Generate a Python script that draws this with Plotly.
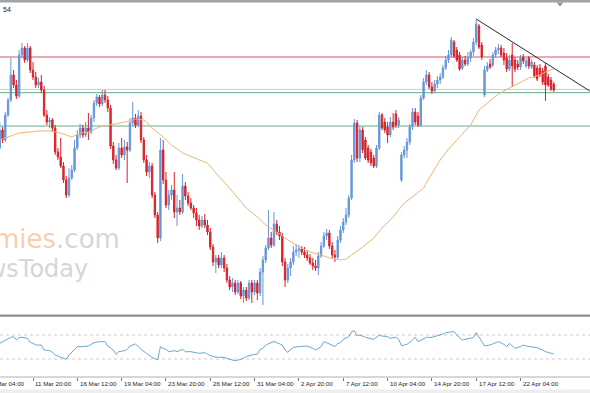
import plotly.graph_objects as go

# ---------------- data (H4 candles, bar index 0..200) ----------------
opens = [1652,1670,1660,1685,1700,1725,1715,1704,1745,1752,
         1740,1752,1730,1723,1715,1718,1710,1685,1678,1680,
         1672,1648,1643,1634,1620,1605,1622,1630,1652,1665,
         1672,1665,1672,1668,1682,1697,1703,1696,1705,1700,
         1692,1654,1640,1632,1652,1645,1653,1650,1677,1682,
         1675,1684,1660,1640,1628,1634,1605,1585,1562,1650,
         1620,1595,1605,1610,1588,1592,1588,1614,1604,1597,
         1592,1587,1580,1574,1580,1575,1568,1553,1538,1542,
         1535,1542,1532,1520,1513,1517,1508,1517,1504,1510,
         1502,1517,1508,1517,1507,1528,1540,1552,1562,1555,
         1576,1568,1564,1538,1520,1532,1538,1548,1550,1551,
         1548,1545,1542,1537,1534,1532,1544,1554,1564,1567,
         1554,1545,1543,1560,1570,1578,1585,1602,1640,1677,
         1642,1670,1660,1652,1648,1642,1634,1652,1685,1678,
         1673,1665,1678,1686,1675,1620,1645,1650,1658,1673,
         1688,1684,1675,1702,1718,1725,1713,1709,1716,1720,
         1723,1732,1740,1745,1758,1750,1745,1732,1740,1736,
         1742,1748,1758,1774,1755,1705,1730,1736,1735,1745,
         1750,1752,1747,1742,1731,1745,1740,1736,1733,1743,
         1734,1742,1733,1735,1732,1732,1729,1734,1723,1720,
         1716]
highs = [1678,1673,1688,1702,1742,1730,1720,1750,1757,1754,
         1757,1754,1738,1728,1722,1725,1714,1690,1683,1682,
         1675,1652,1662,1638,1624,1632,1635,1660,1670,1676,
         1675,1678,1687,1685,1700,1706,1705,1710,1710,1704,
         1695,1658,1645,1657,1662,1660,1658,1682,1698,1686,
         1690,1688,1663,1645,1638,1637,1608,1588,1662,1660,
         1628,1610,1615,1628,1605,1600,1626,1618,1608,1602,
         1595,1592,1585,1584,1586,1580,1572,1556,1545,1545,
         1548,1545,1536,1524,1522,1520,1520,1519,1513,1513,
         1520,1520,1520,1520,1532,1544,1555,1590,1568,1588,
         1580,1574,1567,1542,1536,1542,1554,1556,1555,1554,
         1553,1550,1546,1542,1540,1548,1558,1568,1571,1570,
         1558,1550,1564,1574,1582,1592,1605,1645,1681,1680,
         1674,1673,1663,1655,1651,1645,1655,1688,1687,1682,
         1678,1683,1687,1690,1683,1648,1654,1662,1676,1692,
         1692,1688,1705,1722,1730,1728,1718,1720,1724,1727,
         1735,1744,1750,1763,1760,1753,1748,1743,1744,1748,
         1750,1762,1781,1776,1758,1734,1738,1741,1748,1753,
         1756,1755,1752,1747,1745,1757,1743,1740,1745,1746,
         1742,1744,1741,1738,1735,1736,1732,1737,1726,1723,
         1718]
lows = [1650,1657,1658,1683,1698,1712,1701,1702,1742,1737,
        1738,1727,1720,1712,1712,1707,1683,1675,1672,1668,
        1645,1640,1632,1617,1602,1603,1620,1628,1650,1662,
        1662,1663,1660,1666,1678,1694,1693,1694,1697,1688,
        1651,1636,1630,1630,1642,1640,1617,1648,1674,1672,
        1673,1657,1637,1624,1622,1602,1582,1557,1559,1616,
        1592,1590,1600,1582,1574,1585,1586,1600,1594,1590,
        1582,1574,1570,1572,1572,1565,1550,1534,1527,1532,
        1532,1528,1517,1510,1508,1505,1506,1501,1497,1499,
        1500,1497,1505,1500,1504,1495,1537,1550,1552,1553,
        1565,1560,1534,1513,1517,1524,1535,1544,1542,1545,
        1542,1539,1535,1530,1529,1525,1542,1552,1560,1551,
        1542,1538,1541,1557,1567,1575,1582,1600,1637,1638,
        1638,1647,1640,1637,1634,1632,1632,1650,1670,1667,
        1657,1663,1670,1672,1672,1618,1642,1642,1655,1670,
        1675,1673,1673,1700,1715,1711,1706,1707,1712,1716,
        1721,1730,1737,1743,1742,1738,1729,1730,1734,1734,
        1738,1744,1755,1751,1740,1703,1728,1731,1733,1742,
        1746,1743,1735,1728,1729,1713,1728,1730,1730,1736,
        1732,1731,1731,1722,1719,1723,1715,1699,1713,1709,
        1708]
closes = [1670,1660,1685,1700,1725,1715,1704,1745,1752,1740,
          1752,1730,1723,1715,1718,1710,1685,1678,1680,1672,
          1648,1643,1634,1620,1605,1622,1630,1652,1665,1672,
          1665,1672,1668,1682,1697,1703,1696,1705,1700,1692,
          1654,1640,1632,1652,1645,1653,1650,1677,1682,1675,
          1684,1660,1640,1628,1634,1605,1585,1562,1650,1620,
          1595,1605,1610,1588,1592,1588,1614,1604,1597,1592,
          1587,1580,1574,1580,1575,1568,1553,1538,1542,1535,
          1542,1532,1520,1513,1517,1508,1517,1504,1510,1502,
          1517,1508,1517,1507,1528,1540,1552,1562,1555,1576,
          1568,1564,1538,1520,1532,1538,1548,1550,1551,1548,
          1545,1542,1537,1534,1532,1544,1554,1564,1567,1554,
          1545,1543,1560,1570,1578,1585,1602,1640,1677,1642,
          1670,1650,1642,1640,1637,1634,1652,1685,1672,1670,
          1665,1678,1673,1675,1680,1645,1650,1658,1673,1688,
          1678,1675,1702,1718,1725,1713,1709,1716,1720,1723,
          1732,1740,1745,1760,1744,1740,1731,1740,1736,1742,
          1748,1758,1776,1753,1743,1730,1734,1733,1745,1750,
          1752,1745,1740,1731,1740,1734,1731,1733,1742,1739,
          1739,1734,1738,1724,1721,1725,1718,1715,1715,1711,
          1710]

# moving average
ma_idx = [0,4,7,11,14,18,22,25,26,29,32,36,40,43,47,49,52,53,55,59,
          62,66,70,73,75,78,82,86,89,93,96,100,104,108,112,116,119,123,125,127,
          131,135,138,142,146,149,153,155,159,162,166,170,173,176,180,184,188,191,195,197,200]
ma_val = [1660,1664,1667,1668,1669,1669,1667,1664,1663,1667,1668,1673,1675,1677,1679,1681,1680,1678,1672,1663,
          1655,1647,1642,1639,1637,1627,1615,1602,1592,1583,1575,1568,1560,1553,1548,1545,1542,1540,1541,1545,
          1553,1562,1572,1583,1597,1603,1612,1622,1640,1651,1663,1675,1690,1697,1706,1712,1718,1722,1725,1728,1731]

# RSI (lower panel)
rsi_idx = [0,2,4,5,6,7,8,10,11,12,13,15,16,18,19,20,22,24,25,27,28,30,32,34,36,38,39,41,42,43,
           45,46,47,49,50,51,53,55,57,58,59,60,61,63,64,66,67,69,72,74,75,77,79,81,83,85,87,89,91,93,
           94,95,96,97,99,100,102,103,104,105,106,108,110,111,113,114,116,117,118,120,121,122,123,124,126,127,128,129,130,132,
           134,135,137,138,140,141,143,144,145,147,149,150,151,153,154,156,158,160,161,164,165,167,168,171,172,173,175,177,179,180,
           182,183,184,186,188,189,190,192,194,196,197,200]
rsi_val = [56.1,61.7,66.1,67.2,61.7,65.6,66.1,64.4,57.8,56.1,53.3,53.3,45.0,43.9,41.1,36.7,32.8,29.4,36.7,46.1,50.6,50.6,51.7,57.2,58.9,58.9,51.7,45.0,37.8,42.2,
           43.9,46.1,51.7,55.0,50.6,46.1,39.4,32.8,28.3,50.6,47.8,46.1,42.2,43.9,42.2,46.1,42.2,42.2,39.4,40.6,37.8,33.9,32.8,32.8,29.4,27.2,29.4,33.9,36.7,38.3,
           46.1,47.8,53.3,55.0,59.4,57.2,53.3,45.0,41.1,46.1,49.4,50.6,51.7,51.7,47.8,45.0,50.6,58.9,57.2,53.3,50.6,56.1,57.2,62.8,67.2,75.6,77.2,68.3,70.0,66.1,
           64.4,62.8,70.0,68.3,67.2,64.4,66.1,62.8,52.2,54.4,61.7,66.1,58.9,62.8,66.1,66.1,68.3,71.7,73.9,75.6,70.0,61.7,62.8,65.6,73.9,67.2,51.7,53.3,57.2,58.9,
           54.4,50.6,56.1,47.8,50.6,53.3,51.7,50.6,48.9,45.0,42.2,38.3]
assert len(rsi_idx) == len(rsi_val) and len(ma_idx) == len(ma_val)

tick_idx = [-4, 12, 28, 44, 60, 76, 92, 108, 124, 140, 156, 172, 188]
tick_text = ["9 Mar 04:00", "11 Mar 20:00", "16 Mar 12:00", "19 Mar 04:00", "23 Mar 20:00",
             "26 Mar 12:00", "31 Mar 04:00", "2 Apr 20:00", "7 Apr 12:00", "10 Apr 04:00",
             "14 Apr 20:00", "17 Apr 12:00", "22 Apr 04:00"]

level_vals = [1743, 1710.6, 1707.3, 1674]
level_colors = ["#d6506a", "#cccccc", "#5fae88", "#5fae88"]
trend_idx = [172, 213]
trend_val = [1781, 1709]
rsi_levels = [70, 30]

# ---------------- layout helpers ----------------
W, H = 590, 393
X_LO, X_HI = 0.087, 213.08          # visible bar range
Y_LO, Y_HI = 1486, 1797             # visible price range


def py(pix):
    return (H - pix) / H


def px_frac(idx):
    return (idx - X_LO) / (X_HI - X_LO)


bars = list(range(len(closes)))
fig = go.Figure()

fig.add_trace(go.Candlestick(
    x=bars, open=opens, high=highs, low=lows, close=closes,
    increasing=dict(line=dict(color="#6497da", width=1), fillcolor="#6497da"),
    decreasing=dict(line=dict(color="#d8222a", width=1), fillcolor="#d8222a"),
    whiskerwidth=0, xaxis="x", yaxis="y", hoverinfo="skip", showlegend=False))

fig.add_trace(go.Scatter(x=ma_idx, y=ma_val, mode="lines", xaxis="x", yaxis="y",
                         line=dict(color="#e8b77a", width=1), hoverinfo="skip", showlegend=False))
fig.add_trace(go.Scatter(x=trend_idx, y=trend_val, mode="lines", xaxis="x", yaxis="y",
                         line=dict(color="#2a2a2a", width=1), hoverinfo="skip", showlegend=False))
fig.add_trace(go.Scatter(x=rsi_idx, y=rsi_val, mode="lines", xaxis="x2", yaxis="y2",
                         line=dict(color="#6aa8d0", width=1), hoverinfo="skip", showlegend=False))

shapes = []
for v, c in zip(level_vals, level_colors):
    shapes.append(dict(type="line", xref="paper", yref="y", x0=0, x1=1, y0=v, y1=v,
                       line=dict(color=c, width=1), layer="below"))
for v in rsi_levels:
    shapes.append(dict(type="line", xref="paper", yref="y2", x0=0, x1=1, y0=v, y1=v,
                       line=dict(color="#dcc4c4", width=1, dash="dot"), layer="below"))
# frame pieces
shapes.append(dict(type="rect", xref="paper", yref="paper", x0=0, x1=1, y0=py(2.5), y1=1,
                   fillcolor="#a3a3a3", line=dict(width=0)))
shapes.append(dict(type="rect", xref="paper", yref="paper", x0=0, x1=1, y0=py(316.8), y1=py(314.6),
                   fillcolor="#8e8e8e", line=dict(width=0)))
shapes.append(dict(type="line", xref="paper", yref="paper", x0=0, x1=1, y0=py(377), y1=py(377),
                   line=dict(color="#b0b0b0", width=1)))
shapes.append(dict(type="rect", xref="paper", yref="paper", x0=0, x1=1, y0=0, y1=py(389.5),
                   fillcolor="#eeeeee", line=dict(width=0)))
# chart-shift marker
shapes.append(dict(type="path", xref="paper", yref="paper",
                   path="M %f,%f L %f,%f L %f,%f Z" % (556.5 / W, py(2.5), 563.5 / W, py(2.5), 560 / W, py(6.5)),
                   fillcolor="#9a9a9a", line=dict(width=0)))

annotations = []
for i, t in zip(tick_idx, tick_text):
    annotations.append(dict(x=px_frac(i), xref="paper", y=py(383.5), yref="paper",
                            text=t, showarrow=False, xanchor="left", yanchor="middle", xshift=0.5,
                            font=dict(family="Liberation Sans", size=6.2, color="#1e1e1e")))
annotations.append(dict(x=0, xref="paper", y=py(9.5), yref="paper", text="54", showarrow=False,
                        xanchor="left", yanchor="middle", xshift=1,
                        font=dict(family="Liberation Sans", size=7, color="#222")))
# watermark
annotations.append(dict(x=122 / W, xref="paper", y=py(239), yref="paper", showarrow=False,
                        xanchor="right", yanchor="middle",
                        text="<span style='color:#f6cfb0'>Economies</span><span style='color:#d6d6d6'>.com</span>",
                        font=dict(family="DejaVu Sans", size=26)))
annotations.append(dict(x=90 / W, xref="paper", y=py(268.5), yref="paper", showarrow=False,
                        xanchor="right", yanchor="middle",
                        text="<span style='color:#d6d6d6'>NewsToday</span>",
                        font=dict(family="DejaVu Sans", size=24)))

fig.update_layout(
    width=W, height=H, autosize=False,
    margin=dict(l=0, r=0, t=0, b=0, pad=0),
    paper_bgcolor="white", plot_bgcolor="white",
    hovermode=False, showlegend=False,
    xaxis=dict(domain=[0, 1], range=[X_LO, X_HI], anchor="y", showticklabels=False,
               showgrid=False, zeroline=False, showline=False, ticks="",
               rangeslider=dict(visible=False), fixedrange=True),
    yaxis=dict(domain=[py(314), py(3)], range=[Y_LO, Y_HI], visible=False, fixedrange=True),
    xaxis2=dict(domain=[0, 1], matches="x", anchor="y2", showticklabels=False,
                showgrid=False, zeroline=False, showline=False,
                ticks="outside", ticklen=3, tickwidth=1, tickcolor="#7a7a7a",
                tickmode="array", tickvals=tick_idx, fixedrange=True),
    yaxis2=dict(domain=[py(377), py(317)], range=[0, 100], visible=False, fixedrange=True),
    shapes=shapes, annotations=annotations,
)

fig.write_html("out.html", config={"displayModeBar": False, "staticPlot": True})
